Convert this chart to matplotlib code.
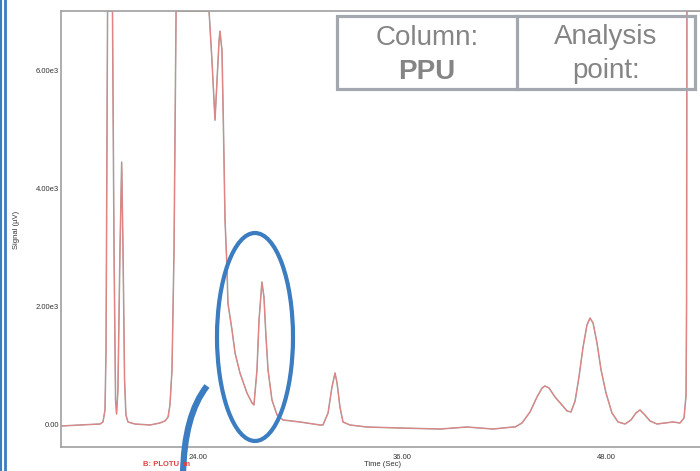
# cromatograma PPU

# librerias
import matplotlib.pyplot as plt
from matplotlib.patches import Ellipse, Rectangle, PathPatch
from matplotlib.path import Path

# datos de la senal (tiempo en s, senal en uV); 7000 = saturado
tiempo = [15.94, 17.06, 18.24, 18.41, 18.53, 18.59, 18.68, 18.97, 19.06, 19.15,
          19.21, 19.29, 19.41, 19.51, 19.59, 19.68, 19.76, 19.88, 20.29, 21.18,
          21.76, 22.06, 22.24, 22.35, 22.47, 22.59, 22.71, 24.65, 24.82, 25.0,
          25.12, 25.24, 25.29, 25.41, 25.5, 25.59, 25.71, 25.76, 26.0, 26.18,
          26.47, 26.88, 27.18, 27.29, 27.47, 27.59, 27.76, 27.88, 28.0, 28.12,
          28.35, 28.65, 29.0, 30.0, 31.18, 31.35, 31.65, 31.88, 32.06, 32.18,
          32.35, 32.53, 32.94, 33.94, 35.88, 38.24, 39.82, 41.35, 42.53, 42.65,
          43.06, 43.53, 43.94, 44.24, 44.41, 44.65, 45.0, 45.41, 45.71, 45.94,
          46.18, 46.41, 46.65, 46.88, 47.06, 47.24, 47.47, 47.71, 48.0, 48.35,
          48.71, 49.12, 49.47, 49.76, 50.0, 50.29, 50.59, 51.0, 51.47, 51.94,
          52.35, 52.59, 52.71, 52.74, 52.76, 54.0]
senal = [-17, 0, 17, 51, 254, 1268, 7000, 7000, 2958, 423,
         186, 592, 2958, 4445, 2958, 761, 169, 51, 17, 0,
         34, 68, 135, 338, 930, 2958, 7000, 7000, 6170, 5155,
         5830, 6500, 6660, 6340, 4985, 3465, 2620, 2062, 1606, 1217,
         879, 541, 372, 338, 930, 1775, 2417, 2163, 1487, 930,
         423, 169, 85, 51, 0, 0, 203, 642, 879, 710,
         304, 51, 0, -34, -51, -68, -34, -68, -34, -34,
         34, 220, 473, 625, 660, 625, 473, 338, 237, 220,
         405, 811, 1318, 1690, 1808, 1724, 1386, 930, 541, 203,
         51, 17, 85, 203, 254, 169, 68, 17, 34, 51,
         34, 118, 507, 2113, 7000, 7000]

ticks_x = [24, 36, 48]
ticks_y = [0, 2000, 4000, 6000]

azul = "#3b7dc0"
gris = "#a3a7ae"

fig = plt.figure(figsize=(7, 4.71), dpi=100)
ax = fig.add_axes([61 / 700, 24 / 471, 644 / 700, 436 / 471])

# la traza (gris debajo, roja encima)
ax.plot(tiempo, senal, color="#a89898", lw=1.1)
ax.plot(tiempo, senal, color="#f08080", lw=0.6)

ax.set_xlim(24 - 137 / 17, 24 + 507 / 17)
ax.set_ylim(-372, 7000)
ax.set_xticks(ticks_x)
ax.set_xticklabels(["%.2f" % t for t in ticks_x])
ax.set_yticks(ticks_y)
ax.set_yticklabels(["0.00"] + ["%.2fe3" % (v / 1000) for v in ticks_y[1:]])
ax.tick_params(length=0, labelsize=5.5, labelcolor="#333333")
ax.tick_params(axis="x", pad=5)
ax.tick_params(axis="y", pad=1.5)
for lab in ax.get_xticklabels() + ax.get_yticklabels():
    lab.set_family("Liberation Sans")
for lado in ["left", "bottom", "top"]:
    ax.spines[lado].set_color("#a0a0a0")
    ax.spines[lado].set_linewidth(1.2)
ax.spines["right"].set_visible(False)

# capa encima en pixeles para anotaciones
capa = fig.add_axes([0, 0, 1, 1], zorder=5)
capa.set_xlim(0, 700)
capa.set_ylim(471, 0)
capa.axis("off")

capa.text(383, 465, "Time (Sec)", fontsize=5.5, family="Liberation Sans",
          color="#333333", ha="center", va="center")
capa.text(16, 230, "Signal (µV)", fontsize=5.5, family="Liberation Sans",
          color="#333333", ha="center", va="center", rotation=90)
capa.text(143, 464, "B: PLOTU  m", fontsize=5.5, family="Liberation Sans",
          color="#e04040", weight="bold", ha="left", va="center")

# cuadro de columna
capa.add_patch(Rectangle((337, 16), 358, 73, fill=False, ec=gris, lw=2.3))
capa.plot([517, 517], [16, 89], color=gris, lw=2.3)
capa.text(427, 38, "Column:", fontsize=20, family="Liberation Sans",
          color="#858585", ha="center", va="center")
capa.text(427, 72, "PPU", fontsize=20, family="Liberation Sans",
          color="#858585", weight="bold", ha="center", va="center")
capa.text(606, 37, "Analysis", fontsize=20, family="Liberation Sans",
          color="#858585", ha="center", va="center")
capa.text(606, 71, "point:", fontsize=20, family="Liberation Sans",
          color="#858585", ha="center", va="center")

# marcas azules
capa.add_patch(Ellipse((255, 337), 76, 208, fill=False, ec=azul, lw=3))
arco = Path([(207, 386), (184, 415), (183, 475)],
            [Path.MOVETO, Path.CURVE3, Path.CURVE3])
capa.add_patch(PathPatch(arco, fill=False, ec=azul, lw=4.5, capstyle="butt"))
capa.plot([1, 1], [0, 471], color=azul, lw=1.5)
capa.plot([5.3, 5.3], [0, 471], color=azul, lw=2)

plt.savefig("out.png")
